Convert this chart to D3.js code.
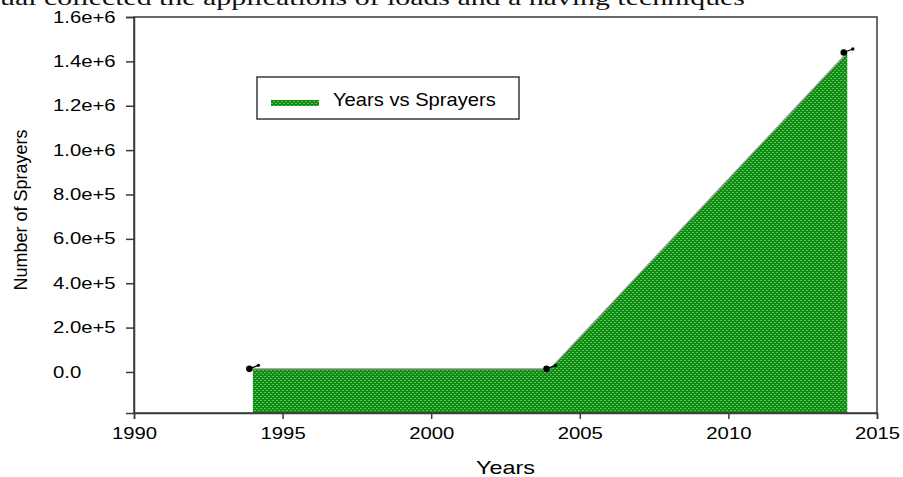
<!DOCTYPE html>
<html>
<head>
<meta charset="utf-8">
<script src="https://cdn.jsdelivr.net/npm/d3@7"></script>
<style>
  html, body { margin: 0; padding: 0; background: #fff; }
  svg { display: block; }
  .sans { font-family: "Liberation Sans", Arial, sans-serif; fill: #000; }
  .caption { font-family: "Liberation Serif", "Times New Roman", serif; fill: #111; }
</style>
</head>
<body>
<svg id="chart" width="903" height="477"></svg>
<script>
// Sprayer counts by year
const years = [1994, 2004, 2014];
const sprayers = [14000, 14000, 1440000];

// Axis ticks
const xTicks = [1990, 1995, 2000, 2005, 2010, 2015];
const yTicks = [0, 200000, 400000, 600000, 800000, 1000000, 1200000, 1400000, 1600000];
const yTickLabels = ["0.0", "2.0e+5", "4.0e+5", "6.0e+5", "8.0e+5", "1.0e+6", "1.2e+6", "1.4e+6", "1.6e+6"];

const seriesName = "Years vs Sprayers";
const xTitle = "Years";
const yTitle = "Number of Sprayers";
const captionText = "ual collected the applications of loads and a having techniques";

const data = years.map((yr, i) => ({ year: yr, value: sprayers[i] }));

const svg = d3.select("#chart");
const plotLeft = 134, plotRight = 877, plotTop = 17, plotBottom = 413;
const tickStretch = 1.27;   // wide-set numerals
const labelLeft = 53;       // y tick labels are left aligned

const x = d3.scaleLinear().domain([1990, 2015]).range([plotLeft, plotRight]);
const y = d3.scaleLinear().domain([-185000, 1600000]).range([plotBottom, plotTop]);

// Dotted green fill pattern
const defs = svg.append("defs");
const pat = defs.append("pattern")
  .attr("id", "greenDots")
  .attr("patternUnits", "userSpaceOnUse")
  .attr("width", 4).attr("height", 4);
pat.append("rect").attr("width", 4).attr("height", 4).attr("fill", "#0c8d10");
pat.append("rect").attr("x", 0).attr("y", 0).attr("width", 2).attr("height", 1).attr("fill", "#62bc62");
pat.append("rect").attr("x", 2).attr("y", 2).attr("width", 2).attr("height", 1).attr("fill", "#62bc62");

// Caption fragment at the top edge
svg.append("text")
  .attr("class", "caption")
  .attr("x", 0).attr("y", 5)
  .attr("font-size", 22)
  .attr("textLength", 745)
  .attr("lengthAdjust", "spacingAndGlyphs")
  .text(captionText);

// Area under the series, down to the bottom of the plot
const area = d3.area()
  .x(d => x(d.year))
  .y0(y.range()[0])
  .y1(d => y(d.value));
svg.append("path")
  .datum(data)
  .attr("d", area)
  .attr("fill", "url(#greenDots)");

const line = d3.line().x(d => x(d.year)).y(d => y(d.value));
svg.append("path")
  .datum(data)
  .attr("d", line)
  .attr("fill", "none")
  .attr("stroke", "#9c9c9c")
  .attr("stroke-width", 1.2);

// Frame
const frameColor = "#3a3a3a";
svg.append("rect")
  .attr("x", plotLeft).attr("y", plotTop)
  .attr("width", plotRight - plotLeft).attr("height", plotBottom - plotTop)
  .attr("fill", "none").attr("stroke", frameColor).attr("stroke-width", 1.5);

// Axes
const xAxis = d3.axisBottom(x).tickValues(xTicks).tickFormat(d3.format("d")).tickSize(6).tickPadding(9);
const gx = svg.append("g").attr("transform", `translate(0,${plotBottom})`).call(xAxis);
const yAxis = d3.axisLeft(y).tickValues(yTicks).tickFormat((d, i) => yTickLabels[i]).tickSize(8).tickPadding(8);
const gy = svg.append("g").attr("transform", `translate(${plotLeft},0)`).call(yAxis);
[gx, gy].forEach(g => {
  g.attr("font-size", null).attr("font-family", null);
  g.select(".domain").attr("stroke", frameColor).attr("stroke-width", 1.5);
  g.selectAll(".tick line").attr("stroke", frameColor).attr("stroke-width", 1.5);
  g.selectAll(".tick text").attr("class", "sans").attr("font-size", 16).attr("fill", "#000");
});
gx.selectAll(".tick text").attr("transform", `scale(${tickStretch},1)`);
gy.selectAll(".tick text")
  .attr("text-anchor", "start")
  .attr("x", (labelLeft - plotLeft) / tickStretch)
  .attr("transform", `scale(${tickStretch},1)`);

// Axis titles
svg.append("text")
  .attr("class", "sans")
  .attr("transform", `translate(${(plotLeft + plotRight) / 2},474) scale(1.3,1)`)
  .attr("text-anchor", "middle")
  .attr("font-size", 18)
  .text(xTitle);
svg.append("text")
  .attr("class", "sans")
  .attr("transform", `translate(27,210) rotate(-90)`)
  .attr("text-anchor", "middle")
  .attr("font-size", 18)
  .text(yTitle);

// Point markers with a short leader to a small dot
const markers = svg.append("g").selectAll("g").data(data).join("g")
  .attr("transform", d => `translate(${x(d.year)},${y(d.value)})`);
markers.append("line")
  .attr("x1", -3.5).attr("y1", 0).attr("x2", 5.5).attr("y2", -3.5)
  .attr("stroke", "#000").attr("stroke-width", 1.3);
markers.append("circle").attr("cx", -3.5).attr("cy", 0).attr("r", 3.3).attr("fill", "#000");
markers.append("circle").attr("cx", 5.5).attr("cy", -3.5).attr("r", 1.7).attr("fill", "#000");

// Legend
const legend = svg.append("g").attr("transform", "translate(257,77)");
legend.append("rect")
  .attr("width", 262).attr("height", 42)
  .attr("fill", "#fff").attr("stroke", frameColor).attr("stroke-width", 1.5);
legend.append("rect")
  .attr("x", 14).attr("y", 23).attr("width", 48).attr("height", 6)
  .attr("fill", "url(#greenDots)");
legend.append("text")
  .attr("class", "sans")
  .attr("transform", "translate(76,29) scale(1.12,1)")
  .attr("font-size", 18)
  .text(seriesName);
</script>
</body>
</html>
